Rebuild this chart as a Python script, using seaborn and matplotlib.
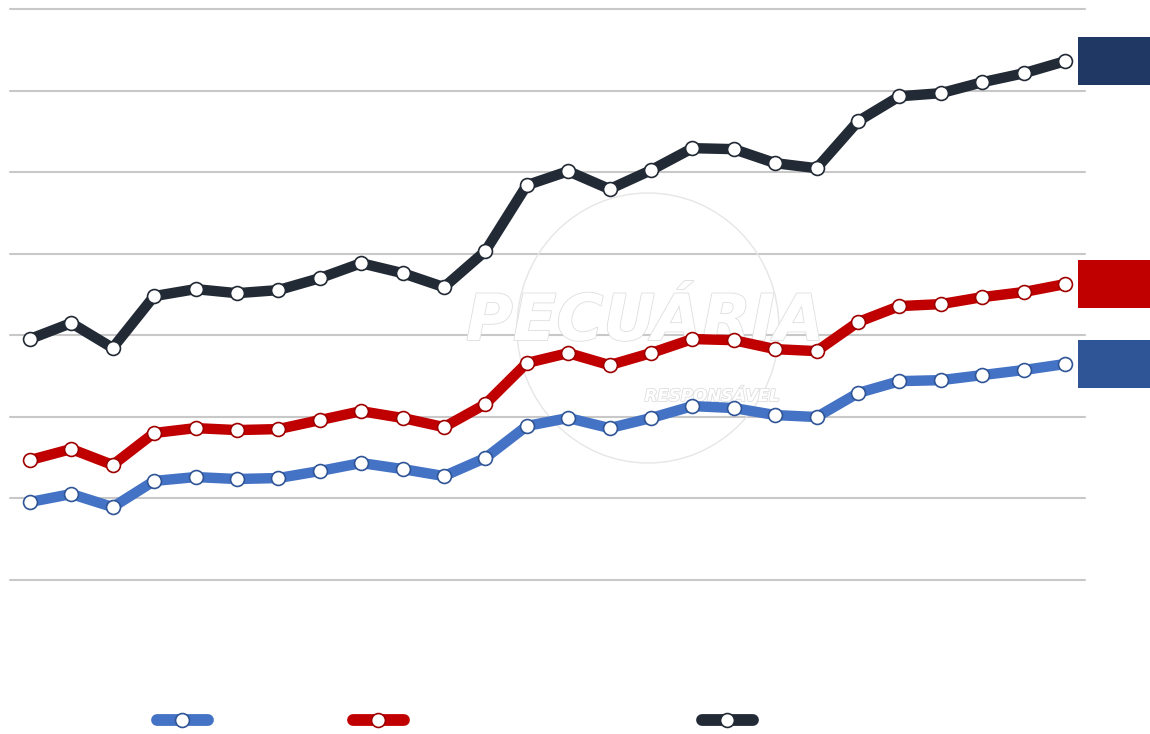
import numpy as np
import pandas as pd
import matplotlib
matplotlib.use("Agg")
import matplotlib.pyplot as plt
import matplotlib.transforms as mtransforms
import matplotlib.patheffects as pe
from matplotlib.patches import Rectangle, Ellipse
import seaborn as sns

# values (grid step = 50)
periodos = [f"P{i + 1}" for i in range(26)]
serie_azul = [47.8, 52.7, 44.7, 60.7, 63.1, 61.9, 62.5, 66.8, 71.7, 68.0, 63.7, 74.8, 94.4,
              99.3, 93.1, 99.3, 106.6, 105.4, 101.1, 99.9, 114.6, 121.9, 122.5, 125.6, 128.7, 132.4]
serie_vermelha = [73.5, 80.3, 70.5, 90.1, 93.1, 91.9, 92.5, 98.0, 103.5, 99.3, 93.7, 107.8, 133.0,
                  139.1, 131.7, 139.1, 147.7, 147.0, 141.5, 140.3, 158.1, 167.9, 169.1, 173.4, 176.5, 181.4]
serie_escura = [147.7, 157.5, 142.2, 174.0, 178.3, 175.8, 177.7, 185.0, 194.2, 188.1, 179.5, 201.6, 242.0,
                250.6, 239.6, 251.2, 264.7, 264.1, 255.5, 252.4, 281.2, 296.5, 298.4, 305.1, 310.6, 318.0]
nomes = ["Bezerro", "Boi gordo (SP)", "Reposição – média ponderada"]
grid_vals = [0, 50, 100, 150, 200, 250, 300, 350]

cores = ["#4472C4", "#C00000", "#222A35"]
bordas = ["#2F5597", "#9E0000", "#222A35"]
caixas = ["#2F5597", "#C00000", "#1F3864"]
legenda_x = [157, 353, 702]  # left edge of each legend handle, in pixels

df = pd.DataFrame({"periodo": periodos, "x": np.arange(len(periodos)),
                   nomes[0]: serie_azul, nomes[1]: serie_vermelha, nomes[2]: serie_escura})

sns.set_style("white")
fig = plt.figure(figsize=(11.5, 7.34), dpi=100)
ax = fig.add_axes([10 / 1150, 154 / 734, 1075 / 1150, 571 / 734])

for y in grid_vals:
    ax.axhline(y, color="#c8c8c8", lw=1.5, zorder=0, clip_on=False)

# faint watermark, above the grid but below the series
ax.add_patch(Ellipse((648 / 1150, 1 - 328 / 734), 262 / 1150, 270 / 734,
                     transform=fig.transFigure, facecolor="none",
                     edgecolor="#e6e6e6", lw=1.0, zorder=1, clip_on=False))
stroke = [pe.withStroke(linewidth=1.2, foreground="#dedede")]
ax.text(645 / 1150, 1 - 322 / 734, "PECUÁRIA", transform=fig.transFigure,
        ha="center", va="center", fontsize=46, fontweight="bold", style="italic",
        color="white", zorder=1, path_effects=stroke)
ax.text(712 / 1150, 1 - 396 / 734, "RESPONSÁVEL", transform=fig.transFigure,
        ha="center", va="center", fontsize=12, fontweight="bold", style="italic",
        color="white", zorder=1, path_effects=stroke)

for nome, cor, borda in zip(nomes, cores, bordas):
    sns.lineplot(data=df, x="x", y=nome, ax=ax, color=cor, linewidth=7.5,
                 marker="o", markersize=10, markerfacecolor="white",
                 markeredgecolor=borda, markeredgewidth=1.2, label=nome,
                 solid_capstyle="round", legend=False, zorder=3)

ax.set_xlim(-0.48, 25.48)
ax.set_ylim(0, 350)
ax.set_xlabel("")
ax.set_ylabel("")
ax.set_xticks([])
ax.set_yticks([])
for s in ax.spines.values():
    s.set_visible(False)

# value boxes at the right edge
blend = mtransforms.blended_transform_factory(fig.transFigure, ax.transData)
h = 48 * 350 / 571
for serie, cx in zip([serie_azul, serie_vermelha, serie_escura], caixas):
    ax.add_patch(Rectangle((1078 / 1150, serie[-1] - h / 2), 72 / 1150, h,
                           transform=blend, facecolor=cx, edgecolor="none",
                           clip_on=False, zorder=5))

handles, labels = ax.get_legend_handles_labels()
for hd, lb, lx in zip(handles, labels, legenda_x):
    leg = fig.legend([hd], [lb], loc="center left", bbox_to_anchor=(lx / 1150, 13 / 734),
                     frameon=False, handlelength=2.8, handletextpad=0.8,
                     borderpad=0, borderaxespad=0, fontsize=13, labelcolor="white")
    for ln in leg.get_lines():
        ln.set_linewidth(8.5)

fig.savefig("out.png", dpi=100, facecolor="white")
